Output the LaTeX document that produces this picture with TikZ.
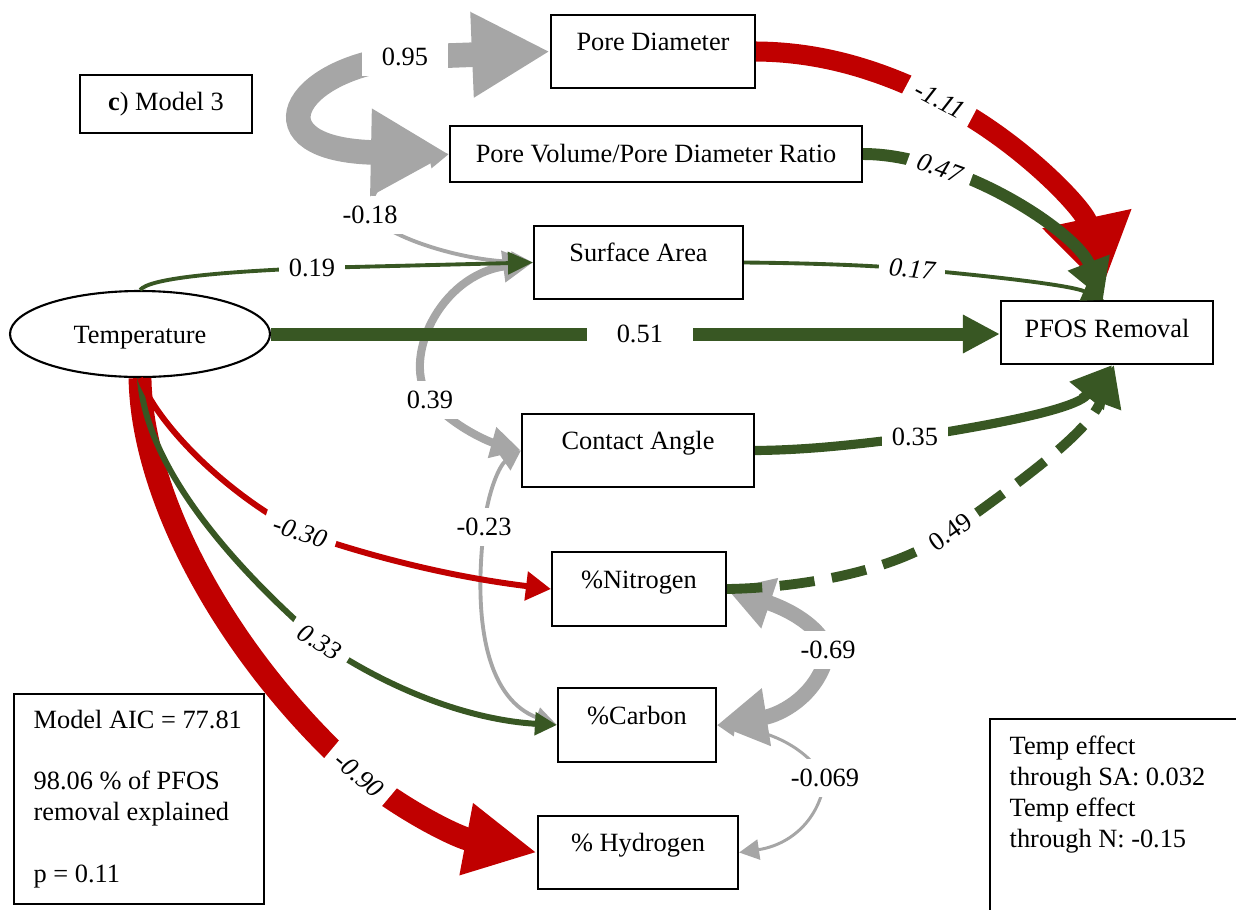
\documentclass[tikz,border=0pt]{standalone}
\usepackage{fontspec}
\setmainfont{Liberation Serif}
\usetikzlibrary{arrows.meta,shapes.geometric}
\definecolor{pathred}{RGB}{192,0,0}
\definecolor{pathgreen}{RGB}{56,87,35}
\definecolor{pathgrey}{RGB}{166,166,166}

\begin{document}
\begin{tikzpicture}[
    font=\fontsize{7.5}{8.8}\selectfont,
    var/.style={draw, line width=0.6pt, fill=white, inner sep=0pt, text height=0.2cm, text depth=0.22cm},
    coef/.style={fill=white, text=black, inner sep=0.1cm},
    coefit/.style={coef, font=\fontsize{7.5}{8.8}\selectfont\itshape},
    redpath/.style={draw=pathred},
    greenpath/.style={draw=pathgreen},
    greypath/.style={draw=pathgrey}
]
            \useasboundingbox (0,0) rectangle (12.36,-9.09);

            % Variables
            \node[var, minimum width=1.72cm, minimum height=0.58cm, text depth=0.08cm] (model) at (1.66,-1.04) {\textbf{c}) Model 3};
            \node[var, minimum width=2.04cm, minimum height=0.73cm] (pd) at (6.53,-0.515) {Pore Diameter};
            \node[var, minimum width=4.12cm, minimum height=0.56cm, text depth=0.04cm] (pvpd) at (6.56,-1.54) {Pore Volume/Pore Diameter Ratio};
            \node[var, minimum width=2.09cm, minimum height=0.73cm] (sa) at (6.385,-2.625) {Surface Area};
            \node[var, ellipse, minimum width=2.6cm, minimum height=0.86cm, text depth=0.02cm] (temp) at (1.40,-3.34) {Temperature};
            \node[var, minimum width=2.12cm, minimum height=0.63cm, text depth=0.11cm] (pfos) at (11.07,-3.325) {PFOS Removal};
            \node[var, minimum width=2.32cm, minimum height=0.73cm] (ca) at (6.38,-4.505) {Contact Angle};
            \node[var, minimum width=1.74cm, minimum height=0.74cm] (nit) at (6.39,-5.89) {\%Nitrogen};
            \node[var, minimum width=1.58cm, minimum height=0.74cm] (carb) at (6.37,-7.25) {\%Carbon};
            \node[var, minimum width=2.00cm, minimum height=0.73cm] (hyd) at (6.38,-8.525) {\% Hydrogen};

            % Model summary
            \node[draw, line width=0.6pt, fill=white, anchor=north west, minimum width=2.5cm, minimum height=2.1cm] (aic) at (0.13,-6.93) {};
            \node[anchor=west, inner sep=0pt, align=left] (aictext) at ([xshift=0.2cm]aic.west)
                  {Model AIC = 77.81\\[8.8pt]98.06 \% of PFOS\\removal explained\\[8.8pt]p = 0.11};
            \node[draw, line width=0.6pt, anchor=north west, minimum width=2.8cm, minimum height=2.4cm] (effbox) at (9.89,-7.18) {};
            \node[anchor=north west, inner sep=0pt, align=left] (eff) at (10.09,-7.35)
                  {Temp effect\\through SA: 0.032\\Temp effect\\through N: -0.15};

            % Covariances
            \draw[greypath, line width=1.1pt, {Triangle[length=0.2cm,width=0.2cm]}-{Triangle[length=0.22cm,width=0.2cm]}]
                (pvpd.west) .. controls (4.1,-1.62) and (3.7,-1.75) .. (3.70,-2.15) node[coef] (c18) {-0.18}
                .. controls (3.9,-2.38) and (4.6,-2.6) .. (sa.west);
            \draw[greypath, line width=7pt, {Triangle[length=0.78cm,width=0.8cm]}-{Triangle[length=0.78cm,width=0.82cm]}]
                (pd.west) .. controls (4.9,-0.54) and (4.4,-0.56) .. (4.05,-0.57) node[coef, inner xsep=0.2cm] (c95) {0.95}
                .. controls (2.9,-0.68) and (2.5,-1.5) .. (pvpd.west);
            \draw[greypath, line width=2.3pt, {Triangle[length=0.3cm,width=0.3cm]}-{Triangle[length=0.3cm,width=0.3cm]}]
                (sa.west) .. controls (4.4,-2.75) and (4.0,-3.6) .. (4.30,-4.00) node[coef] (c39) {0.39}
                .. controls (4.55,-4.28) and (4.9,-4.42) .. (ca.west);
            \draw[greypath, line width=1.1pt, {Triangle[length=0.2cm,width=0.2cm]}-{Triangle[length=0.22cm,width=0.2cm]}]
                (ca.west) .. controls (5.0,-4.65) and (4.88,-4.9) .. (4.84,-5.27) node[coef] (c23) {-0.23}
                .. controls (4.72,-6.3) and (4.9,-7.0) .. (carb.west);
            \draw[greypath, line width=4.3pt, {Triangle[length=0.45cm,width=0.5cm]}-{Triangle[length=0.5cm,width=0.55cm]}]
                (nit.east) .. controls (7.6,-6.0) and (8.15,-6.15) .. (8.28,-6.50) node[coef] (c69) {-0.69}
                .. controls (8.2,-6.95) and (7.8,-7.15) .. (carb.east);
            \draw[greypath, line width=0.85pt, {Triangle[length=0.18cm,width=0.18cm]}-{Triangle[length=0.2cm,width=0.2cm]}]
                (carb.east) .. controls (7.6,-7.3) and (8.0,-7.4) .. (8.25,-7.78) node[coef] (c069) {-0.069}
                .. controls (8.2,-8.2) and (7.9,-8.45) .. (hyd.east);

            % Paths to PFOS removal
            \draw[redpath, line width=5.7pt, -{Triangle[length=0.72cm,width=0.86cm]}]
                (pd.east) .. controls (8.3,-0.52) and (8.9,-0.75) .. (9.40,-1.00) node[coefit, rotate=-28] (p111) {-1.11}
                .. controls (10.2,-1.4) and (10.85,-2.1) .. ([shift={(-0.05,0.11)}]pfos.north);
            \draw[greenpath, line width=3.4pt, -{Triangle[length=0.4cm,width=0.42cm]}]
                (pvpd.east) .. controls (8.9,-1.54) and (9.15,-1.6) .. (9.40,-1.68) node[coefit, rotate=-20] (p47) {0.47}
                .. controls (10.1,-1.9) and (10.8,-2.4) .. ([xshift=-0.04cm]pfos.north);
            \draw[greenpath, line width=1.1pt, -{Triangle[length=0.22cm,width=0.2cm]}]
                (sa.east) .. controls (8.0,-2.63) and (8.7,-2.65) .. (9.12,-2.69) node[coefit, rotate=-5] (p17) {0.17}
                .. controls (9.9,-2.76) and (10.7,-2.85) .. ([xshift=-0.03cm]pfos.north);
            \draw[greenpath, line width=3.7pt, -{Triangle[length=0.37cm,width=0.36cm]}]
                (temp.east) -- node[coef, pos=0.506, inner xsep=0.3cm] (p51) {0.51} (temp.east -| pfos.west);
            \draw[greenpath, line width=2.6pt, -{Triangle[length=0.4cm,width=0.42cm]}]
                (ca.east) .. controls (8.1,-4.50) and (8.6,-4.44) .. (9.15,-4.37) node[coef] (p35) {0.35}
                .. controls (9.9,-4.25) and (10.75,-4.1) .. ([xshift=0.05cm]pfos.south);
            \draw[greenpath, line width=2.8pt, dash pattern=on 10pt off 5pt, -{Triangle[length=0.4cm,width=0.42cm]}]
                (nit.east) .. controls (7.9,-5.88) and (8.9,-5.75) .. (9.50,-5.32) node[coef, rotate=35] (p49) {0.49}
                .. controls (10.3,-4.75) and (10.9,-4.3) .. ([xshift=0.07cm]pfos.south);

            % Paths from temperature
            \draw[greenpath, line width=1.1pt, -{Triangle[length=0.25cm,width=0.22cm]}]
                (temp.north) .. controls (1.5,-2.78) and (2.2,-2.72) .. (3.12,-2.68) node[coef] (t19) {0.19}
                -- (sa.west);
            \draw[redpath, line width=6.5pt, -{Triangle[length=0.72cm,width=0.68cm]}]
                (temp.south) .. controls (1.42,-5.0) and (2.3,-6.6) .. (3.59,-7.75) node[coefit, rotate=-40] (t90) {-0.90}
                .. controls (4.1,-8.15) and (4.6,-8.38) .. (hyd.west);
            \draw[greenpath, line width=1.7pt, -{Triangle[length=0.22cm,width=0.22cm]}]
                (temp.south) .. controls (1.45,-4.6) and (2.2,-5.55) .. (3.20,-6.42) node[coefit, rotate=-32] (t33) {0.33}
                .. controls (3.9,-6.9) and (4.7,-7.2) .. (carb.west);
            \draw[redpath, line width=1.7pt, -{Triangle[length=0.25cm,width=0.28cm]}]
                (temp.south) .. controls (1.55,-4.2) and (2.2,-4.9) .. (3.00,-5.32) node[coefit, rotate=-18] (t30) {-0.30}
                .. controls (3.8,-5.6) and (4.6,-5.78) .. (nit.west);
\end{tikzpicture}
\end{document}
